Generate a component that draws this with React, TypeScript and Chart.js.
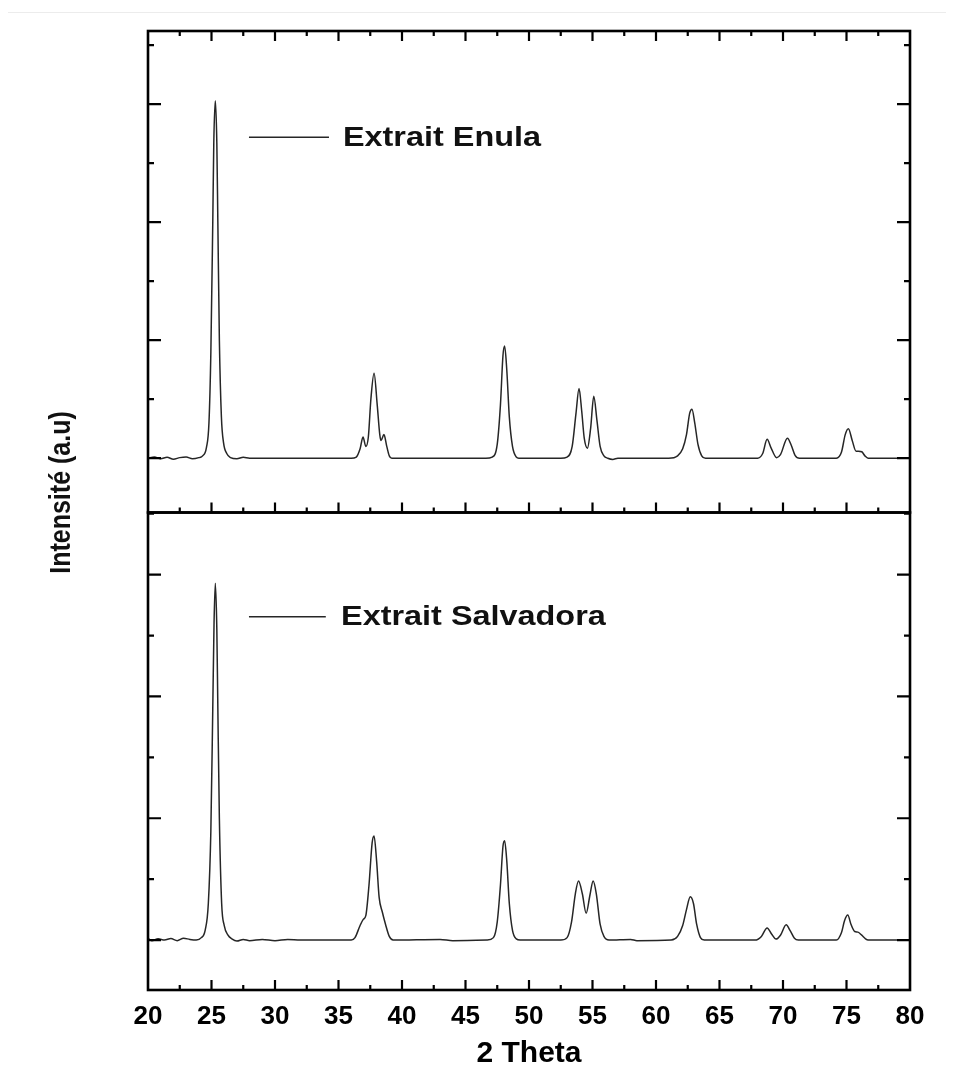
import React, { useEffect, useRef } from "react";
import { Chart, registerables } from "chart.js";

Chart.register(...registerables);

// ---- Data ----
const seriesNames = ["Extrait Enula", "Extrait Salvadora"];

const enulaTheta = [
  20.0, 20.5, 21.0, 21.5, 22.0, 22.5, 23.0, 23.5, 24.0, 24.3, 24.6, 24.8, 24.95, 25.1, 25.18, 25.3, 25.42, 25.5,
  25.62, 25.78, 25.95, 26.2, 26.5, 27.0, 27.5, 28.0, 30.0, 33.0, 36.0, 36.4, 36.7, 36.93, 37.15, 37.35, 37.55,
  37.8, 38.05, 38.25, 38.35, 38.58, 38.8, 39.0, 39.2, 42.0, 46.6, 47.1, 47.5, 47.75, 47.95, 48.08, 48.25, 48.45,
  48.7, 49.0, 49.2, 52.5, 53.0, 53.4, 53.7, 53.94, 54.15, 54.35, 54.6, 54.85, 55.1, 55.35, 55.6, 55.9, 56.2,
  56.6, 57.0, 61.0, 61.7, 62.1, 62.4, 62.65, 62.83, 63.05, 63.3, 63.6, 63.9, 68.0, 68.4, 68.75, 69.05, 69.5,
  69.8, 70.35, 70.65, 70.95, 71.3, 74.2, 74.6, 74.9, 75.15, 75.45, 75.75, 75.95, 76.2, 76.45, 76.7, 80.0,
];
const enulaIntensity = [
  0, 10, -5, 8, -8, 5, 10, -5, 5, 20, 90, 300, 900, 2000, 2670, 3030, 2670, 2000,
  1000, 350, 130, 40, 5, -5, 8, 0, 0, 0, 0, 10, 80, 180, 100, 180, 500,
  720, 450, 200, 150, 200, 100, 20, 0, 0, 0, 10, 120, 450, 870, 950, 750, 350,
  100, 10, 0, 0, 10, 100, 380, 590, 400, 170, 85, 250, 525, 320, 100, 20, 0,
  -10, 0, 0, 20, 80, 200, 380, 415, 300, 120, 20, 0, 0, 40, 160, 90, 5,
  30, 170, 110, 25, 0, 0, 50, 200, 250, 150, 60, 60, 55, 20, 0, 0,
];

const salvadoraTheta = [
  20.0, 20.3, 20.8, 21.3, 21.8, 22.3, 22.8, 23.3, 23.8, 24.2, 24.5, 24.75, 24.95, 25.1, 25.2, 25.3, 25.42, 25.5,
  25.62, 25.8, 26.0, 26.3, 26.6, 27.0, 27.5, 28.0, 29.0, 30.0, 31.0, 32.0, 34.0, 36.0, 36.3, 36.7, 36.95, 37.15,
  37.4, 37.65, 37.8, 38.0, 38.2, 38.45, 38.7, 39.0, 39.3, 43.0, 44.0, 46.7, 47.2, 47.5, 47.75, 47.95, 48.08,
  48.25, 48.45, 48.7, 49.0, 49.3, 52.5, 53.0, 53.35, 53.65, 53.9, 54.2, 54.5, 54.8, 55.05, 55.3, 55.6, 55.9,
  56.3, 58.0, 58.5, 61.2, 61.7, 62.1, 62.4, 62.7, 62.95, 63.2, 63.5, 63.8, 67.8, 68.3, 68.75, 69.1, 69.45,
  69.8, 70.25, 70.55, 70.9, 71.2, 74.2, 74.6, 74.85, 75.1, 75.35, 75.65, 75.9, 76.2, 76.5, 76.7, 79.8,
];
const salvadoraIntensity = [
  15, -5, 10, 0, 12, -5, 15, 5, 0, 20, 80, 300, 900, 1900, 2600, 2930, 2550, 1900,
  1000, 300, 120, 40, 10, -8, 5, -5, 5, -5, 5, 0, 0, 0, 20, 120, 170, 200,
  450, 800, 855, 650, 350, 230, 130, 30, 0, 5, -5, 0, 20, 150, 450, 770, 815,
  650, 300, 80, 10, 0, 0, 20, 150, 380, 485, 380, 220, 370, 485, 380, 130, 30,
  0, 5, -5, 0, 30, 120, 250, 355, 300, 130, 20, 0, 0, 30, 100, 50, 8,
  40, 125, 80, 15, 0, 0, 60, 160, 205, 130, 70, 65, 40, 10, 0, 0,
];

const xTickValues = [20, 25, 30, 35, 40, 45, 50, 55, 60, 65, 70, 75, 80];
const xMinorTicks = [22.5, 27.5, 32.5, 37.5, 42.5, 47.5, 52.5, 57.5, 62.5, 67.5, 72.5, 77.5];
const yMajorTicks = [0, 1000, 2000, 3000];
const yMinorTicks = [500, 1500, 2500, 3500];

const xTitle = "2 Theta";
const yTitle = "Intensité (a.u)";

// legend anchors in data units: [lineStartX, lineEndX, textX, y]
const legendTop = [27.95, 34.25, 35.35, 2720];
const legendBot = [27.95, 34.0, 35.2, 2654];

const LINE_COLOR = "#262626";

const framePlugin = {
  id: "frameTicks",
  afterDatasetsDraw(chart: any) {
    const ctx = chart.ctx as CanvasRenderingContext2D;
    const xs = chart.scales.x;
    const yt = chart.scales.yTop;
    const yb = chart.scales.yBot;
    const L = xs.left;
    const R = xs.right;
    ctx.save();
    ctx.strokeStyle = "#000";
    ctx.lineCap = "butt";

    // y ticks
    const yTicks = (ys: any) => {
      ctx.lineWidth = 2.2;
      const draw = (v: number, len: number) => {
        if (v < ys.min || v > ys.max) return;
        const py = ys.getPixelForValue(v);
        ctx.beginPath();
        ctx.moveTo(L, py);
        ctx.lineTo(L + len, py);
        ctx.moveTo(R, py);
        ctx.lineTo(R - len, py);
        ctx.stroke();
      };
      yMajorTicks.forEach((v) => draw(v, 13));
      yMinorTicks.forEach((v) => draw(v, 6));
    };
    yTicks(yt);
    yTicks(yb);

    // x ticks
    ctx.lineWidth = 2.2;
    const xt = (v: number, len: number) => {
      if (v <= xs.min || v >= xs.max) return;
      const px = xs.getPixelForValue(v);
      ctx.beginPath();
      ctx.moveTo(px, yt.top);
      ctx.lineTo(px, yt.top + len);
      ctx.moveTo(px, yt.bottom);
      ctx.lineTo(px, yt.bottom - len);
      ctx.moveTo(px, yb.bottom);
      ctx.lineTo(px, yb.bottom - len);
      ctx.stroke();
    };
    xTickValues.forEach((v) => xt(v, 10));
    xMinorTicks.forEach((v) => xt(v, 5));

    // frames
    ctx.lineWidth = 2.6;
    [yt, yb].forEach((ys: any) => {
      ctx.strokeRect(L, ys.top, R - L, ys.bottom - ys.top);
    });

    // legends
    const legend = (ys: any, spec: number[], name: string) => {
      const py = ys.getPixelForValue(spec[3]);
      ctx.strokeStyle = LINE_COLOR;
      ctx.lineWidth = 1.6;
      ctx.beginPath();
      ctx.moveTo(xs.getPixelForValue(spec[0]), py);
      ctx.lineTo(xs.getPixelForValue(spec[1]), py);
      ctx.stroke();
      ctx.save();
      ctx.fillStyle = "#111";
      ctx.font = 'bold 27px "Liberation Sans", Arial, sans-serif';
      ctx.textBaseline = "middle";
      ctx.textAlign = "left";
      ctx.translate(xs.getPixelForValue(spec[2]), py + 1);
      ctx.scale(1.2, 1);
      ctx.fillText(name, 0, 0);
      ctx.restore();
    };
    legend(yt, legendTop, seriesNames[0]);
    legend(yb, legendBot, seriesNames[1]);

    // y title spanning both panels
    ctx.save();
    ctx.fillStyle = "#111";
    ctx.font = 'bold 25px "Liberation Sans", Arial, sans-serif';
    ctx.textAlign = "center";
    ctx.textBaseline = "middle";
    ctx.translate(L - 86, yt.bottom - 20);
    ctx.rotate(-Math.PI / 2);
    ctx.scale(1, 1.2);
    ctx.fillText(yTitle, 0, 0);
    ctx.restore();

    ctx.restore();
  },
};

export default function App() {
  const ref = useRef<HTMLCanvasElement | null>(null);

  useEffect(() => {
    if (!ref.current) return;
    const chart = new Chart(ref.current, {
      type: "line",
      data: {
        datasets: [
          {
            label: seriesNames[0],
            data: enulaTheta.map((x, i) => ({ x, y: enulaIntensity[i] })),
            yAxisID: "yTop",
            borderColor: LINE_COLOR,
            borderWidth: 1.5,
            pointRadius: 0,
            cubicInterpolationMode: "monotone",
            fill: false,
          },
          {
            label: seriesNames[1],
            data: salvadoraTheta.map((x, i) => ({ x, y: salvadoraIntensity[i] })),
            yAxisID: "yBot",
            borderColor: LINE_COLOR,
            borderWidth: 1.5,
            pointRadius: 0,
            cubicInterpolationMode: "monotone",
            fill: false,
          },
        ],
      },
      options: {
        animation: false,
        responsive: false,
        maintainAspectRatio: false,
        layout: { padding: { left: 140, top: 23, right: 36, bottom: 0 } },
        plugins: {
          legend: { display: false },
          tooltip: { enabled: false },
        },
        scales: {
          x: {
            type: "linear",
            min: 20,
            max: 80,
            afterBuildTicks: (s: any) => {
              s.ticks = xTickValues.map((v) => ({ value: v }));
            },
            afterFit: (s: any) => {
              s.height = 76;
            },
            grid: { display: false, drawTicks: false },
            border: { display: false },
            ticks: {
              color: "#000",
              padding: 11,
              maxRotation: 0,
              autoSkip: false,
              font: { family: '"Liberation Sans", Arial, sans-serif', size: 26, weight: "bold" },
              callback: (v: any) => String(v),
            },
            title: {
              display: true,
              text: xTitle,
              color: "#000",
              padding: { top: 0, bottom: -6 },
              font: { family: '"Liberation Sans", Arial, sans-serif', size: 30, weight: "bold" },
            },
          },
          yBot: {
            type: "linear",
            position: "left",
            stack: "panels",
            stackWeight: 477,
            min: -410,
            max: 3510,
            display: false,
          },
          yTop: {
            type: "linear",
            position: "left",
            stack: "panels",
            stackWeight: 481,
            min: -460,
            max: 3620,
            display: false,
          },
        },
      } as any,
      plugins: [framePlugin],
    });
    return () => chart.destroy();
  }, []);

  return (
    <div style={{ position: "relative", width: 938, height: 1058 }}>
      <div
        style={{
          position: "absolute",
          left: -1,
          top: 4,
          width: 940,
          height: 1062,
          boxSizing: "border-box",
          borderLeft: "1px solid #b8b8b8",
          borderTop: "1px solid #ececec",
          pointerEvents: "none",
        }}
      />
      <canvas ref={ref} width={938} height={1058} style={{ position: "absolute", left: 0, top: 0 }} />
    </div>
  );
}
